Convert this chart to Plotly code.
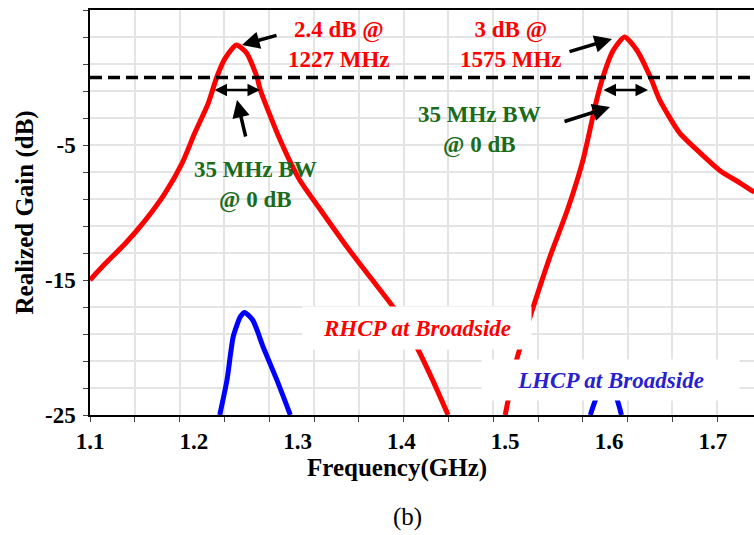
import plotly.graph_objects as go

# ---------------- data ----------------
rhcp_freq = [1.100, 1.1145, 1.134, 1.153, 1.172, 1.189, 1.201, 1.214, 1.222, 1.230, 1.241,
             1.251, 1.261, 1.264, 1.283, 1.302, 1.322, 1.348, 1.370, 1.392, 1.415, 1.430, 1.445,
             None,
             1.500, 1.511, 1.527, 1.543, 1.560, 1.575, 1.588, 1.594, 1.604, 1.615, 1.627, 1.640,
             1.649, 1.668, 1.688, 1.707, 1.726, 1.740]
rhcp_gain = [-15.0, -13.8, -12.3, -10.6, -8.6, -6.3, -4.1, -1.9, 0.0, 1.4, 2.4,
             1.8, 0.0, -0.9, -4.6, -7.6, -9.8, -12.6, -14.8, -17.0, -20.0, -22.4, -25.0,
             None,
             -25.0, -20.9, -17.0, -13.3, -9.8, -6.1, -1.7, 0.0, 2.0, 3.0, 2.0, 0.0,
             -1.7, -4.1, -5.6, -6.9, -7.8, -8.5]

lhcp_freq = [1.225, 1.232, 1.238, 1.245, 1.249, 1.257, 1.267, 1.280, 1.293,
             None,
             1.582, 1.588, 1.597, 1.607, 1.612]
lhcp_gain = [-25.0, -22.4, -19.2, -17.7, -17.4, -18.0, -20.0, -22.4, -25.0,
             None,
             -25.0, -23.7, -22.6, -23.7, -25.0]

ref_level = 0.0
x_tick_vals = [1.1, 1.2, 1.3, 1.4, 1.5, 1.6, 1.7]
x_tick_text = ["1.1", "1.2", "1.3", "1.4", "1.5", "1.6", "1.7"]
y_tick_vals = [5, -5, -15, -25]
y_tick_text = ["5", "-5", "-15", "-25"]

# ---------------- layout helpers ----------------
W, H = 754, 535
L, T, B = 90, 10, 120              # plot area position in page pixels
X0, X1 = 1.1, 1.1 + (W - L) / 1038.0
Y0, Y1 = -25, 5
PW, PH = W - L, H - T - B


def px(xp):
    return X0 + (xp - L) / PW * (X1 - X0)


def py(yp):
    return Y1 - (yp - T) / PH * (Y1 - Y0)


FONT = "Liberation Serif, Times New Roman, serif"
RED = "#ff0000"
BLUE = "#0000ff"
GREEN = "#1a6b1a"

fig = go.Figure()
fig.add_trace(go.Scatter(x=rhcp_freq, y=rhcp_gain, mode="lines",
                         line=dict(color=RED, width=5, shape="spline", smoothing=0.6),
                         connectgaps=False, showlegend=False))
fig.add_trace(go.Scatter(x=lhcp_freq, y=lhcp_gain, mode="lines",
                         line=dict(color=BLUE, width=5, shape="spline", smoothing=0.6),
                         connectgaps=False, showlegend=False))

fig.add_shape(type="line", xref="paper", x0=0, x1=1, yref="y", y0=ref_level, y1=ref_level,
              line=dict(color="black", width=3.5, dash="12px,6px"))

ann = []
ann.append(dict(x=px(339), y=py(44), xref="x", yref="y", text="<b>2.4 dB @<br>1227 MHz</b>",
                showarrow=False, font=dict(family=FONT, size=23, color=RED), align="center"))
ann.append(dict(x=px(511), y=py(44), xref="x", yref="y", text="<b>3 dB @<br>1575 MHz</b>",
                showarrow=False, font=dict(family=FONT, size=23, color=RED), align="center"))
ann.append(dict(x=px(255), y=py(185), xref="x", yref="y", text="<b>35 MHz BW<br>@ 0 dB</b>",
                showarrow=False, font=dict(family=FONT, size=23, color=GREEN), align="center"))
ann.append(dict(x=px(479), y=py(130), xref="x", yref="y", text="<b>35 MHz BW<br>@ 0 dB</b>",
                showarrow=False, font=dict(family=FONT, size=23, color=GREEN), align="center"))
ann.append(dict(x=px(417), y=py(328), xref="x", yref="y", text="<b><i>RHCP at Broadside</i></b>",
                showarrow=False, font=dict(family=FONT, size=23, color=RED),
                bgcolor="white", width=226, height=40, valign="middle"))
ann.append(dict(x=px(610), y=py(380), xref="x", yref="y", text="<b><i>LHCP at Broadside</i></b>",
                showarrow=False, font=dict(family=FONT, size=23, color="#2a1fd0"),
                bgcolor="white", width=255, height=38, valign="middle"))


def arrow(hx, hy, tx, ty, both=False, w=3.5):
    ann.append(dict(x=px(hx), y=py(hy), ax=px(tx), ay=py(ty), xref="x", yref="y",
                    axref="x", ayref="y", text="", showarrow=True, arrowhead=2,
                    arrowsize=1.0, arrowwidth=w, arrowcolor="black",
                    arrowside="end+start" if both else "end"))


arrow(242, 45, 278, 35)
arrow(612, 39, 568, 52)
arrow(237, 100, 246, 138)
arrow(610, 107, 563, 122)
arrow(260, 90, 213, 90, both=True, w=2.5)
arrow(648, 90, 602, 90, both=True, w=2.5)

ann.append(dict(x=(397 - L) / PW, y=-(468 - 415) / PH, xref="paper", yref="paper",
                text="<b>Frequency(GHz)</b>", showarrow=False, yanchor="middle",
                font=dict(family=FONT, size=25, color="black")))
ann.append(dict(x=(24 - L) / PW, y=0.5, xref="paper", yref="paper", textangle=-90,
                text="<b>Realized Gain (dB)</b>", showarrow=False, xanchor="center",
                font=dict(family=FONT, size=25, color="black")))
ann.append(dict(x=(407 - L) / PW, y=-(517 - 415) / PH, xref="paper", yref="paper",
                text="(b)", showarrow=False, yanchor="middle",
                font=dict(family=FONT, size=25, color="black")))

fig.update_layout(
    width=W, height=H,
    margin=dict(l=L, r=0, t=T, b=B, pad=0),
    paper_bgcolor="white", plot_bgcolor="white",
    annotations=ann,
    xaxis=dict(range=[X0, X1], tickmode="array", tickvals=x_tick_vals, ticktext=x_tick_text,
               ticks="", showgrid=False, zeroline=False,
               showline=True, linecolor="black", linewidth=2, mirror=True,
               tickfont=dict(family=FONT, size=23, color="black", weight="bold"),
               ticklabelstandoff=4,
               minor=dict(tick0=1.1, dtick=0.04316, ticks="outside", ticklen=5,
                          tickcolor="#444", tickwidth=1, showgrid=True,
                          gridcolor="#e4e4e4", gridwidth=1.5)),
    yaxis=dict(range=[Y0, Y1], tickmode="array", tickvals=y_tick_vals, ticktext=y_tick_text,
               ticks="outside", ticklen=5, tickcolor="#444", tickwidth=1,
               showgrid=True, gridcolor="#e4e4e4", gridwidth=1.5, zeroline=False,
               showline=True, linecolor="black", linewidth=1.5,
               tickfont=dict(family=FONT, size=23, color="black", weight="bold"),
               ticklabelstandoff=3,
               minor=dict(tick0=-25, dtick=2, ticks="outside", ticklen=5,
                          tickcolor="#444", tickwidth=1, showgrid=True,
                          gridcolor="#e4e4e4", gridwidth=1.5)),
)

fig.write_html(
    "out.html",
    config={"displayModeBar": False},
    post_script="document.body.style.margin='0';document.body.style.overflow='hidden';",
)
